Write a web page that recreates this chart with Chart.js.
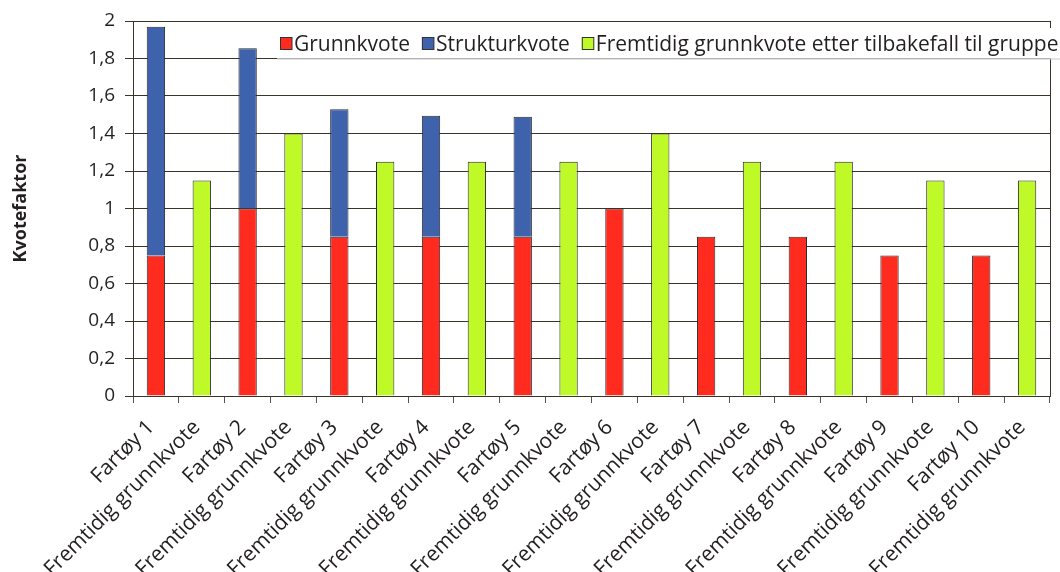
<!DOCTYPE html>
<html>
<head>
<meta charset="utf-8">
<script src="https://cdn.jsdelivr.net/npm/chart.js@4/dist/chart.umd.min.js"></script>
<style>
  html, body { margin: 0; padding: 0; background: #ffffff; }
  #wrap { width: 1060px; height: 572px; }
</style>
</head>
<body>
<div id="wrap"><canvas id="c" width="1060" height="572"></canvas></div>
<script>
const categories = [
  'Fartøy 1', 'Fremtidig grunnkvote',
  'Fartøy 2', 'Fremtidig grunnkvote',
  'Fartøy 3', 'Fremtidig grunnkvote',
  'Fartøy 4', 'Fremtidig grunnkvote',
  'Fartøy 5', 'Fremtidig grunnkvote',
  'Fartøy 6', 'Fremtidig grunnkvote',
  'Fartøy 7', 'Fremtidig grunnkvote',
  'Fartøy 8', 'Fremtidig grunnkvote',
  'Fartøy 9', 'Fremtidig grunnkvote',
  'Fartøy 10', 'Fremtidig grunnkvote'
];
const grunnkvote = [0.75, null, 1.0, null, 0.85, null, 0.85, null, 0.85, null, 1.0, null, 0.85, null, 0.85, null, 0.75, null, 0.75, null];
const strukturkvote = [1.22, null, 0.855, null, 0.68, null, 0.645, null, 0.64, null, null, null, null, null, null, null, null, null, null, null];
const fremtidig = [null, 1.15, null, 1.4, null, 1.25, null, 1.25, null, 1.25, null, 1.4, null, 1.25, null, 1.25, null, 1.15, null, 1.15];
const seriesNames = ['Grunnkvote', 'Strukturkvote', 'Fremtidig grunnkvote etter tilbakefall til gruppe'];
const yTicks = [0, 0.2, 0.4, 0.6, 0.8, 1, 1.2, 1.4, 1.6, 1.8, 2];
const yTitle = 'Kvotefaktor';

const TEXT = '#231f20';
const GRID = '#3a3328';
const FONT = "'Open Sans', 'DejaVu Sans', sans-serif";

function zeroPad(s) {
  s.paddingLeft = 0; s.paddingRight = 0; s.paddingTop = 0; s.paddingBottom = 0;
}

const legendPlugin = {
  id: 'boxLegend',
  afterDraw(chart) {
    const ctx = chart.ctx;
    const area = chart.chartArea;
    ctx.save();
    // right frame line of plot area
    ctx.strokeStyle = GRID;
    ctx.lineWidth = 1;
    ctx.beginPath();
    ctx.moveTo(Math.round(area.right) + 0.5, area.top);
    ctx.lineTo(Math.round(area.right) + 0.5, area.bottom);
    ctx.stroke();
    // legend box
    const bx = 277, by = 28, bw = 800, bh = 30.5;
    ctx.fillStyle = '#ffffff';
    ctx.fillRect(bx, by, bw, bh);
    ctx.strokeStyle = '#c8c8c8';
    ctx.beginPath();
    ctx.moveTo(bx, by + bh + 0.5);
    ctx.lineTo(bx + bw, by + bh + 0.5);
    ctx.stroke();
    // items
    ctx.font = "21px " + FONT;
    ctx.textBaseline = 'alphabetic';
    let x = 280;
    chart.data.datasets.forEach((ds) => {
      ctx.fillStyle = ds.backgroundColor;
      ctx.fillRect(x, 37.5, 12, 12);
      ctx.strokeStyle = '#333';
      ctx.lineWidth = 1;
      ctx.strokeRect(x + 0.5, 37.5, 11.5, 12);
      ctx.fillStyle = TEXT;
      ctx.fillText(ds.label, x + 14, 51);
      x += 14 + ctx.measureText(ds.label).width + 12;
    });
    ctx.restore();
  }
};

new Chart(document.getElementById('c'), {
  type: 'bar',
  data: {
    labels: categories,
    datasets: [
      { label: seriesNames[0], data: grunnkvote, backgroundColor: '#ff2b1f', borderColor: '#2b2b2b', borderWidth: 1 },
      { label: seriesNames[1], data: strukturkvote, backgroundColor: '#3f62ad', borderColor: '#2b2b2b', borderWidth: 1 },
      { label: seriesNames[2], data: fremtidig, backgroundColor: '#bff927', borderColor: '#2b2b2b', borderWidth: 1 }
    ]
  },
  options: {
    responsive: false,
    animation: false,
    layout: { padding: { top: 21, right: 10, left: 0, bottom: 0 } },
    datasets: { bar: { categoryPercentage: 1, barPercentage: 0.4, skipNull: true } },
    plugins: { legend: { display: false }, tooltip: { enabled: false } },
    scales: {
      x: {
        stacked: true,
        offset: true,
        grid: { display: true, offset: true, drawOnChartArea: false, drawTicks: true, tickLength: 7, color: '#555' },
        border: { display: true, color: GRID },
        ticks: {
          autoSkip: false, minRotation: 45, maxRotation: 45,
          font: { family: FONT, size: 21 }, color: TEXT, padding: 12, labelOffset: -5
        },
        afterFit(s) { s.height = 176; zeroPad(s); }
      },
      y: {
        stacked: true,
        min: 0, max: 2,
        afterBuildTicks(s) { s.ticks = yTicks.map(v => ({ value: v })); },
        grid: { color: GRID, lineWidth: 1, tickLength: 8, drawTicks: true },
        border: { display: true, color: GRID },
        ticks: {
          font: { family: FONT, size: 19 }, color: TEXT, padding: 10,
          callback: (v) => String(Number(Number(v).toFixed(1))).replace('.', ',')
        },
        title: {
          display: true, text: yTitle, color: TEXT,
          font: { family: FONT, size: 18, weight: 'bold' },
          padding: { top: 10, bottom: 4 }
        },
        afterFit(s) { s.width = 133; zeroPad(s); }
      }
    }
  },
  plugins: [legendPlugin]
});
</script>
</body>
</html>
